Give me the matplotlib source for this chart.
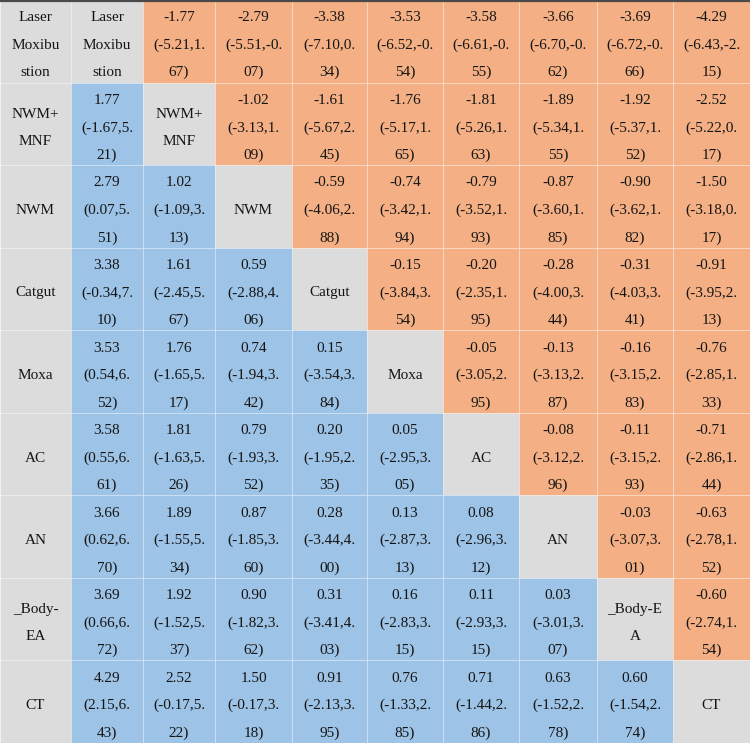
import matplotlib.pyplot as plt
from matplotlib.patches import Rectangle

plt.rcParams["font.family"] = ["Liberation Serif", "DejaVu Serif"]

# treatments, in table order, with the wrapped forms used in the picture
treatments = ["Laser Moxibustion", "NWM+MNF", "NWM", "Catgut", "Moxa",
              "AC", "AN", "_Body-EA", "CT"]
row_labels = ["Laser\nMoxibu\nstion", "NWM+\nMNF", "NWM", "Catgut", "Moxa",
              "AC", "AN", "_Body-\nEA", "CT"]
diag_labels = ["Laser\nMoxibu\nstion", "NWM+\nMNF", "NWM", "Catgut", "Moxa",
               "AC", "AN", "_Body-E\nA", "CT"]

# upper triangle: row treatment vs later column treatment (estimate, lower CI, upper CI)
upper_est = [
    [-1.77, -2.79, -3.38, -3.53, -3.58, -3.66, -3.69, -4.29],
    [-1.02, -1.61, -1.76, -1.81, -1.89, -1.92, -2.52],
    [-0.59, -0.74, -0.79, -0.87, -0.90, -1.50],
    [-0.15, -0.20, -0.28, -0.31, -0.91],
    [-0.05, -0.13, -0.16, -0.76],
    [-0.08, -0.11, -0.71],
    [-0.03, -0.63],
    [-0.60],
]
upper_lo = [
    [-5.21, -5.51, -7.10, -6.52, -6.61, -6.70, -6.72, -6.43],
    [-3.13, -5.67, -5.17, -5.26, -5.34, -5.37, -5.22],
    [-4.06, -3.42, -3.52, -3.60, -3.62, -3.18],
    [-3.84, -2.35, -4.00, -4.03, -3.95],
    [-3.05, -3.13, -3.15, -2.85],
    [-3.12, -3.15, -2.86],
    [-3.07, -2.78],
    [-2.74],
]
upper_hi = [
    [1.67, -0.07, 0.34, -0.54, -0.55, -0.62, -0.66, -2.15],
    [1.09, 2.45, 1.65, 1.63, 1.55, 1.52, 0.17],
    [2.88, 1.94, 1.93, 1.85, 1.82, 0.17],
    [3.54, 1.95, 3.44, 3.41, 2.13],
    [2.95, 2.87, 2.83, 1.33],
    [2.96, 2.93, 1.44],
    [3.01, 1.52],
    [1.54],
]

GRAY = "#dcdcdc"
ORANGE = "#f4b084"
BLUE = "#9dc3e6"
TXT = "#151515"

col_edges = [0, 71, 143, 215, 292, 367, 443, 519, 597, 673, 750]
n = len(treatments)
row_h = 743 / n
line_gap = 27.5
fs = 11.0


def cell_lines(est, lo, hi):
    ci = f"({lo:.2f},{hi:.2f})"
    cut = ci.rfind(".") + 1
    return [f"{est:.2f}", ci[:cut], ci[cut:]]


def put_lines(ax, xc, yc, lines):
    k = len(lines)
    for i, s in enumerate(lines):
        yb = yc + 7.5 + (i - (k - 1) / 2) * line_gap
        ax.text(xc, yb, s, ha="center", va="baseline", fontsize=fs, color=TXT)


fig = plt.figure(figsize=(7.5, 7.43), dpi=100)
ax = fig.add_axes([0, 0, 1, 1])
ax.set_xlim(0, 750)
ax.set_ylim(743, 0)
ax.axis("off")

for r in range(n):
    y0 = r * row_h
    yc = y0 + row_h / 2
    for c in range(n + 1):
        x0, x1 = col_edges[c], col_edges[c + 1]
        xc = (x0 + x1) / 2
        if c == 0:
            color, lines = GRAY, row_labels[r].split("\n")
        else:
            j = c - 1
            if j == r:
                color, lines = GRAY, diag_labels[r].split("\n")
            elif j > r:
                k = j - r - 1
                color = ORANGE
                lines = cell_lines(upper_est[r][k], upper_lo[r][k], upper_hi[r][k])
            else:
                k = r - j - 1
                color = BLUE
                lines = cell_lines(-upper_est[j][k], -upper_hi[j][k], -upper_lo[j][k])
        ax.add_patch(Rectangle((x0, y0), x1 - x0, row_h, facecolor=color,
                               edgecolor=(1, 1, 1, 0.45), linewidth=0.4))
        put_lines(ax, xc, yc, lines)

ax.plot([0, 750], [0.8, 0.8], color="#4a4a4a", linewidth=1.6, solid_capstyle="butt")

fig.savefig("out.png", dpi=100)
